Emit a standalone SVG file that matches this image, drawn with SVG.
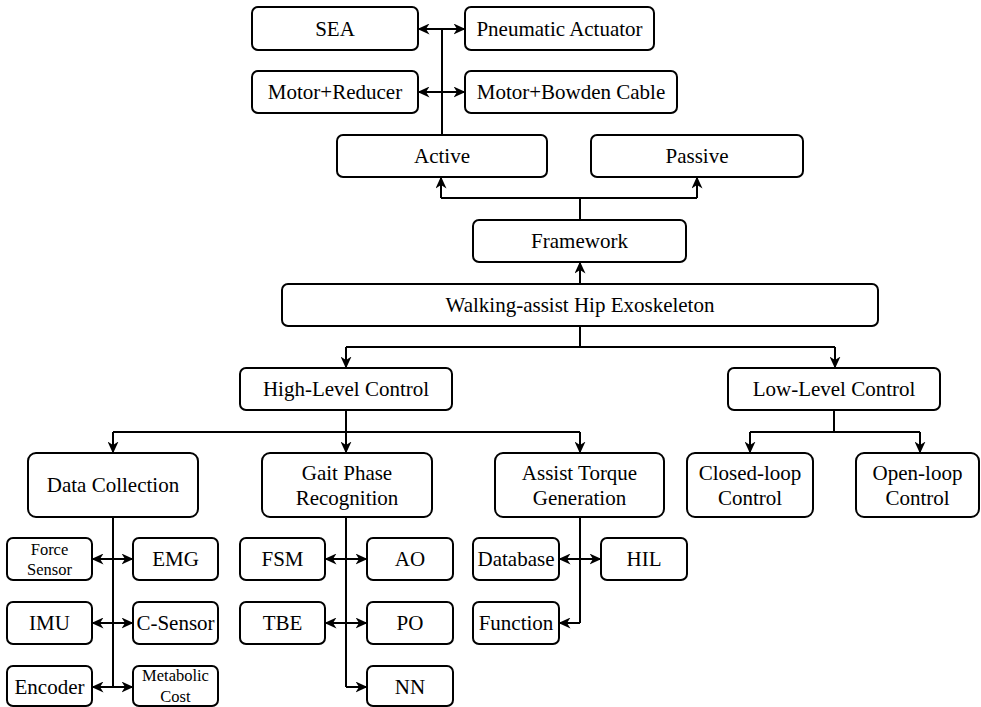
<svg xmlns="http://www.w3.org/2000/svg" width="981" height="707" viewBox="0 0 981 707" font-family="'Liberation Serif', 'Times New Roman', 'DejaVu Serif', serif">
<style>
.box{fill:#fff;stroke:#000;stroke-width:2}
text{font-family:'Liberation Serif','Times New Roman','DejaVu Serif',serif;text-anchor:middle;fill:#000}
.t{font-size:21px}
.s{font-size:16.5px}
.c{fill:none;stroke:#000;stroke-width:2}
.a{fill:none;stroke:#000;stroke-width:2;marker-end:url(#ah)}
.b{fill:none;stroke:#000;stroke-width:2;marker-start:url(#ah);marker-end:url(#ah)}
</style>
<defs>
<marker id="ah" viewBox="0 0 12 11" refX="11.5" refY="5.5" markerWidth="12" markerHeight="11" markerUnits="userSpaceOnUse" orient="auto-start-reverse">
<path d="M0,0 L12,5.5 L0,11 L3.5,5.5 z" fill="#000"/>
</marker>
</defs>
<rect width="981" height="707" fill="#fff"/>
<g id="connectors">
<path class="c" d="M442,135 V29"/>
<path class="b" d="M418,29 H465"/>
<path class="b" d="M418,92 H465"/>
<path class="c" d="M580,220 V198 M441,198 H697"/>
<path class="a" d="M441,198 V177"/>
<path class="a" d="M697,198 V177"/>
<path class="a" d="M580,284 V262"/>
<path class="c" d="M580,326 V347 M346,347 H835"/>
<path class="a" d="M346,347 V368"/>
<path class="a" d="M835,347 V368"/>
<path class="c" d="M346,410 V432 M113,432 H580"/>
<path class="a" d="M113,432 V453"/>
<path class="a" d="M346,432 V453"/>
<path class="a" d="M580,432 V453"/>
<path class="c" d="M834,410 V432 M750,432 H920"/>
<path class="a" d="M750,432 V453"/>
<path class="a" d="M920,432 V453"/>
<path class="c" d="M113,517 V687"/>
<path class="b" d="M92,559 H133"/>
<path class="b" d="M92,623 H133"/>
<path class="b" d="M92,687 H133"/>
<path class="c" d="M346,517 V687"/>
<path class="b" d="M325,559 H367"/>
<path class="b" d="M325,623 H367"/>
<path class="a" d="M346,687 H367"/>
<path class="c" d="M580,517 V623"/>
<path class="b" d="M559,559 H601"/>
<path class="a" d="M580,623 H559"/>
</g>
<g id="sea"><rect class="box" x="252" y="7" width="166" height="43" rx="6"/><text class="t" x="335" y="36">SEA</text></g>
<g id="pneumatic"><rect class="box" x="465" y="7" width="189" height="43" rx="6"/><text class="t" x="559.5" y="36">Pneumatic Actuator</text></g>
<g id="motor-reducer"><rect class="box" x="252" y="71" width="166" height="42" rx="6"/><text class="t" x="335" y="99">Motor+Reducer</text></g>
<g id="motor-bowden"><rect class="box" x="465" y="71" width="212" height="42" rx="6"/><text class="t" x="571" y="99">Motor+Bowden Cable</text></g>
<g id="active"><rect class="box" x="337" y="135" width="210" height="42" rx="6"/><text class="t" x="442" y="163">Active</text></g>
<g id="passive"><rect class="box" x="591" y="135" width="212" height="42" rx="6"/><text class="t" x="697" y="163">Passive</text></g>
<g id="framework"><rect class="box" x="473" y="220" width="213" height="42" rx="6"/><text class="t" x="579.5" y="248">Framework</text></g>
<g id="walking"><rect class="box" x="282" y="284" width="596" height="42" rx="6"/><text class="t" x="580" y="312">Walking-assist Hip Exoskeleton</text></g>
<g id="high-level"><rect class="box" x="240" y="368" width="212" height="42" rx="6"/><text class="t" x="346" y="396">High-Level Control</text></g>
<g id="low-level"><rect class="box" x="728" y="368" width="212" height="42" rx="6"/><text class="t" x="834" y="396">Low-Level Control</text></g>
<g id="data-collection"><rect class="box" x="28" y="453" width="170" height="64" rx="8"/><text class="t" x="113" y="492">Data Collection</text></g>
<g id="gait-phase"><rect class="box" x="262" y="453" width="170" height="64" rx="8"/><text class="t" x="347" y="480">Gait Phase</text><text class="t" x="347" y="505">Recognition</text></g>
<g id="assist-torque"><rect class="box" x="495" y="453" width="169" height="64" rx="8"/><text class="t" x="579.5" y="480">Assist Torque</text><text class="t" x="579.5" y="505">Generation</text></g>
<g id="closed-loop"><rect class="box" x="687" y="453" width="126" height="64" rx="8"/><text class="t" x="750" y="480">Closed-loop</text><text class="t" x="750" y="505">Control</text></g>
<g id="open-loop"><rect class="box" x="856" y="453" width="123" height="64" rx="8"/><text class="t" x="917.5" y="480">Open-loop</text><text class="t" x="917.5" y="505">Control</text></g>
<g id="force-sensor"><rect class="box" x="7" y="538" width="85" height="42" rx="6"/><text class="s" x="49.5" y="555">Force</text><text class="s" x="49.5" y="575">Sensor</text></g>
<g id="emg"><rect class="box" x="133" y="538" width="85" height="42" rx="6"/><text class="t" x="175.5" y="566">EMG</text></g>
<g id="imu"><rect class="box" x="7" y="602" width="85" height="42" rx="6"/><text class="t" x="49.5" y="630">IMU</text></g>
<g id="c-sensor"><rect class="box" x="133" y="602" width="85" height="42" rx="6"/><text class="t" x="175.5" y="630">C-Sensor</text></g>
<g id="encoder"><rect class="box" x="7" y="666" width="85" height="40" rx="6"/><text class="t" x="49.5" y="694">Encoder</text></g>
<g id="metabolic"><rect class="box" x="133" y="666" width="85" height="40" rx="6"/><text class="s" x="175.5" y="681">Metabolic</text><text class="s" x="175.5" y="702">Cost</text></g>
<g id="fsm"><rect class="box" x="240" y="538" width="85" height="42" rx="6"/><text class="t" x="282.5" y="566">FSM</text></g>
<g id="ao"><rect class="box" x="367" y="538" width="86" height="42" rx="6"/><text class="t" x="410" y="566">AO</text></g>
<g id="tbe"><rect class="box" x="240" y="602" width="85" height="42" rx="6"/><text class="t" x="282.5" y="630">TBE</text></g>
<g id="po"><rect class="box" x="367" y="602" width="86" height="42" rx="6"/><text class="t" x="410" y="630">PO</text></g>
<g id="nn"><rect class="box" x="367" y="666" width="86" height="40" rx="6"/><text class="t" x="410" y="694">NN</text></g>
<g id="database"><rect class="box" x="473" y="538" width="86" height="42" rx="6"/><text class="t" x="516" y="566">Database</text></g>
<g id="hil"><rect class="box" x="601" y="538" width="86" height="42" rx="6"/><text class="t" x="644" y="566">HIL</text></g>
<g id="function"><rect class="box" x="473" y="602" width="86" height="42" rx="6"/><text class="t" x="516" y="630">Function</text></g>
</svg>
